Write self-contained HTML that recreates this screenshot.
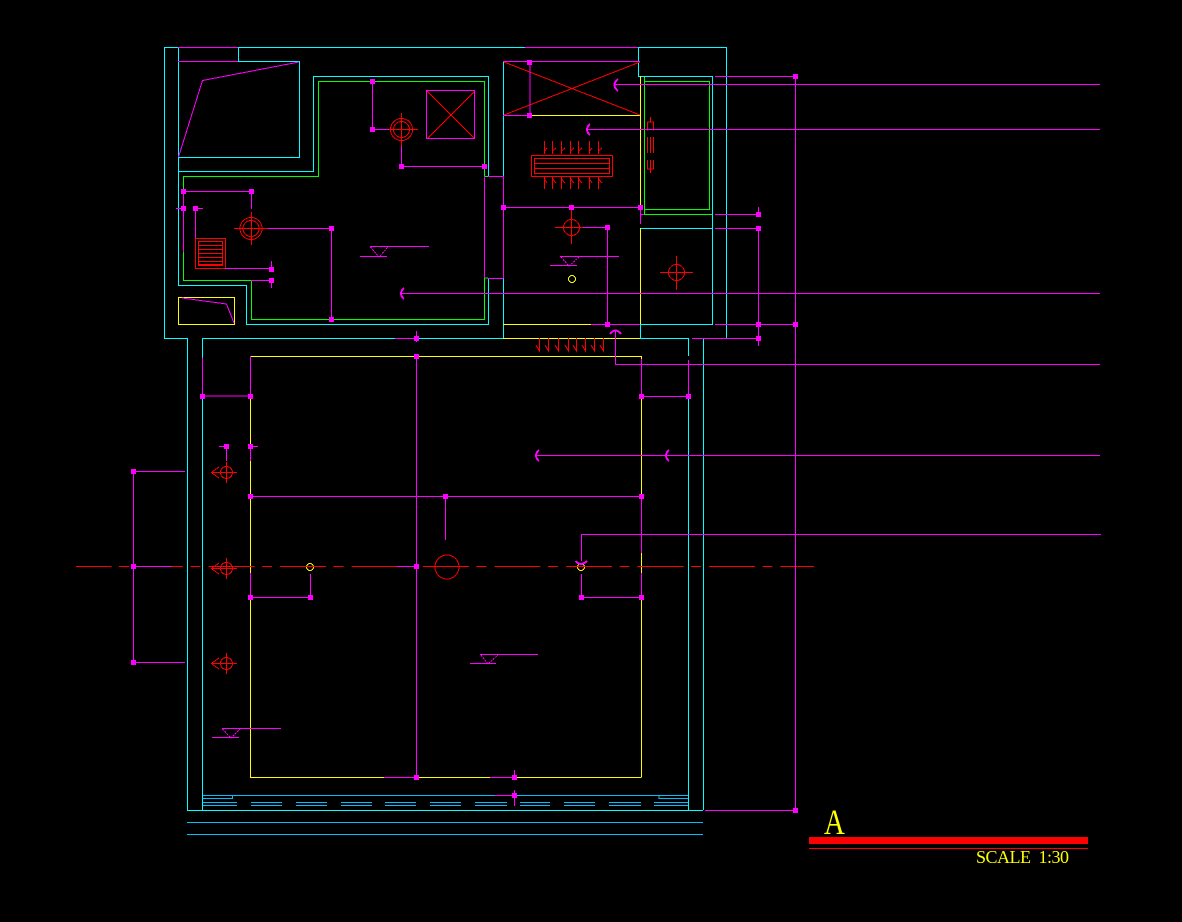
<!DOCTYPE html>
<html><head><meta charset="utf-8"><style>
html,body{margin:0;padding:0;background:#000;width:1182px;height:922px;overflow:hidden}
svg{display:block}
text{font-family:"Liberation Serif",serif;fill:#ff0}
</style></head><body>
<svg width="1182" height="922" viewBox="0 0 1182 922" shape-rendering="crispEdges" fill="none" stroke-width="1">
<rect width="1182" height="922" fill="#000" stroke="none"/>
<!-- blue-cyan -->
<path stroke="#00bfff" d="M187 822.5H703M187 834.5H703M202 795.5H495M514 795.5H688M202 798.5H232.5V795M659 795V798.5H688
M202 802.5H237M251 802.5H282M296 802.5H327M341 802.5H372M385 802.5H416M430 802.5H461M475 802.5H507M520 802.5H550M564 802.5H595M609 802.5H641M654 802.5H689
M202 805.5H237M251 805.5H282M296 805.5H327M341 805.5H372M385 805.5H416M430 805.5H461M475 805.5H507M520 805.5H550M564 805.5H595M609 805.5H641M654 805.5H689"/>
<!-- cyan -->
<path stroke="#0ff" d="M187.5 810V338.5H164.5V47.5H178M238 47.5H525M638 47.5H726.5V338
M178.5 47V285.5H246.5V324.5H488.5V278
M238.5 47V61.5H299.5V157.5H178
M178 171.5H313.5V76.5H488.5V176
M202.5 338V358M202.5 396V810M202 338.5H395M416 338.5H503
M503.5 61V176M503.5 278V338
M638.5 47V76.5H712.5V324.5H640M640 228.5H712.5M640.5 324V338M640 338.5H688.5V356M688.5 396V810
M703.5 338V810M187 810.5H703"/>
<!-- green -->
<path stroke="#0f0" d="M183.5 176.5V280.5H251.5V319.5H484.5V278H488
M183 176.5H318.5V81.5H484.5V176.5H488
M644.5 77V214.5H712M644 81.5H709.5V209.5H644M644 214.5H712"/>
<!-- yellow -->
<path stroke="#ff0" d="M178.5 297.5H234.5V324.5H178.5Z
M640.5 76V207M640.5 228V324M530 115.5H640M503 324.5H591M503 338.5H640
M250 356.5H641.5V396M641.5 396V496M641.5 553V573M641.5 598V777.5
M250.5 396V446M250.5 461V573M250.5 597V777.5
M250 777.5H384M416 777.5H490M514 777.5H641"/>
<circle cx="572" cy="279" r="3.5" stroke="#ff0"/>
<circle cx="310" cy="567" r="3.5" stroke="#ff0"/>
<circle cx="581" cy="567" r="3.5" stroke="#ff0"/>
<!-- red -->
<line x1="76" y1="566.5" x2="814" y2="566.5" stroke="#f00" stroke-dasharray="46 7.5 10 8" stroke-dashoffset="10.5"/>
<g stroke="#f00">
<path d="M504 62L640 115M504 115L640 62M427 91L475 139M475 91L427 139"/>
<circle cx="401.5" cy="129.5" r="11"/><circle cx="401.5" cy="129.5" r="8"/>
<path d="M385 129.5H418M401.5 113V146"/>
<circle cx="251" cy="228.5" r="11"/><circle cx="251" cy="228.5" r="8"/>
<path d="M234 228.5H268M251.5 212V245"/>
<rect x="195.5" y="238.5" width="30" height="30"/><rect x="198.5" y="241.5" width="24" height="24"/>
<path d="M198 245.5H222M198 249.5H222M198 253.5H222M198 257.5H222M198 261.5H222M198 264.5H222"/>
<rect x="531.5" y="155.5" width="81" height="21"/><rect x="534.5" y="158.5" width="75" height="15"/>
<path d="M534 163.5H609M534 168.5H609"/>
<path d="M544.5 141V154M544.5 151L547 148M552.5 141V154M552.5 151L556 148M561.5 141V154M561.5 151L565 148M570.5 141V154M570.5 151L574 148M578.5 141V154M578.5 151L582 148M589.5 141V154M589.5 151L592 148M598.5 141V154M598.5 151L602 148
M544.5 177V189M544.5 179L547 183M552.5 177V189M552.5 179L556 183M561.5 177V189M561.5 179L565 183M570.5 177V189M570.5 179L574 183M578.5 177V189M578.5 179L582 183M589.5 177V189M589.5 179L592 183M598.5 177V189M598.5 179L602 183"/>
<path d="M650.5 117V122M647.5 130.5V122H653.5V130.5M647.5 137V153M650.5 137V153M653.5 137V153M647.5 160V169H653.5V160M650.5 160V173"/>
<circle cx="571.5" cy="227.5" r="8"/><path d="M555 227.5H583M571.5 207V244"/>
<circle cx="676.5" cy="272.5" r="8"/><path d="M660 272.5H693M676.5 256V290"/>
<path d="M539.5 338V351L536 345M548.5 338V351L545 345M558.5 338V351L555 345M568.5 338V351L565 345M576.5 338V351L573 345M585.5 338V351L582 345M594.5 338V351L591 345M603.5 338V351L600 345"/>
<circle cx="447" cy="567" r="12"/>
<circle cx="226.5" cy="472.5" r="6"/><path d="M211 472.5H237M226.5 462V483M212 472L219 467M212 473L219 478"/>
<circle cx="226.5" cy="568.5" r="6"/><path d="M211 568.5H237M226.5 558V579M212 568L219 563M212 569L219 574"/>
<circle cx="226.5" cy="663.5" r="6"/><path d="M211 663.5H237M226.5 653V674M212 663L219 658M212 664L219 669"/>
</g>
<rect x="809" y="837" width="279" height="7" fill="#f00" stroke="none"/>
<rect x="809" y="848" width="279" height="1" fill="#f00" stroke="none"/>
<!-- magenta -->
<path stroke="#f0f" d="M178 47.5H238M525 47.5H638M178 61.5H238M503 61.5H640M503 115.5H530
M299 62L202.5 80.5L178.5 157M182 298L226.5 304L234 323
M484.5 176V278M488 176.5H503.5M488 278.5H503.5M503.5 176V278M640.5 207V224M640 214.5H644
M372.5 81V129.5H389M401.5 146V166.5H484M426.5 90.5H474.5V138.5H426.5Z
M183.5 191V252M183 191.5H251.5V209M176 208.5H186M195.5 208.5H203M195.5 208V238M225 268.5H271.5M271.5 261V269M251 280.5H271.5V288
M268 228.5H331.5V319.5
M503 207.5H640M530 62V115M583 227.5H607.5V324M591 324.5H640
M395 338.5H416M416.5 331V342
M615 84.5H1100M587 129.5H1100M401 293.5H1100M615.5 331V364.5H1100M535 455.5H1100M581.5 561V534.5H1101M581.5 574V597.5H641.5
M715 76.5H795.5M795.5 76V810M705 810.5H795.5M715 324.5H795.5
M715 214.5H758.5M758.5 207V217M715 228.5H758.5V324M692 338.5H758.5M758.5 324V346
M416.5 356V777M250.5 356V396M641.5 359V396M641.5 496V553M641.5 573V598
M202.5 358V396H250M641 396.5H688.5M688.5 360V396
M250 496.5H641M445.5 496V540
M250.5 446V461M250 446.5H258M226.5 446V461M219 446.5H226.5
M250.5 573V597M250 597.5H310.5V574
M133.5 471V662M133 471.5H185M133 566.5H172M133 662.5H185
M397 566.5H416
M384 777.5H416M490 777.5H514M514.5 770V780M495 795.5H514M514.5 790V806
M370 246.5H429M360 256.5H387M560 256.5H619M550 265.5H577M480 654.5H538M470 663.5H496M222 728.5H281M212 737.5H239"/>
<path stroke="#f0f" stroke-dasharray="2 1" d="M370.5 247L379 257L388 247M561 257L569 266L579 257M481 655L488 664L498 655M222.5 729L231 738L240 729"/>
<g stroke="#f0f" stroke-width="2">
<path d="M618 79Q611 85 618 91M590 124Q584 129.5 590 135M404 288Q398 293.5 404 299M539 450Q533 455.5 539 461M669 450Q663 455.5 669 461M610 334Q615.5 327 621 334M575.5 561Q581 567 587 561"/>
</g>
<g fill="#f0f" stroke="none">
<rect x="370" y="79" width="5" height="5"/><rect x="370" y="127" width="5" height="5"/><rect x="399" y="164" width="5" height="5"/><rect x="482" y="164" width="5" height="5"/>
<rect x="181" y="189" width="5" height="5"/><rect x="249" y="189" width="5" height="5"/><rect x="181" y="206" width="5" height="5"/><rect x="193" y="206" width="5" height="5"/>
<rect x="329" y="226" width="5" height="5"/><rect x="329" y="317" width="5" height="5"/><rect x="269" y="267" width="5" height="5"/><rect x="269" y="278" width="5" height="5"/>
<rect x="527" y="60" width="5" height="5"/><rect x="527" y="113" width="5" height="5"/><rect x="501" y="205" width="5" height="5"/><rect x="569" y="205" width="5" height="5"/><rect x="638" y="205" width="5" height="5"/>
<rect x="605" y="225" width="5" height="5"/><rect x="605" y="322" width="5" height="5"/><rect x="414" y="336" width="5" height="5"/>
<rect x="793" y="74" width="5" height="5"/><rect x="793" y="322" width="5" height="5"/><rect x="793" y="808" width="5" height="5"/>
<rect x="756" y="212" width="5" height="5"/><rect x="756" y="226" width="5" height="5"/><rect x="756" y="322" width="5" height="5"/><rect x="756" y="336" width="5" height="5"/>
<rect x="414" y="354" width="5" height="5"/><rect x="414" y="564" width="5" height="5"/><rect x="414" y="775" width="5" height="5"/>
<rect x="200" y="394" width="5" height="5"/><rect x="248" y="394" width="5" height="5"/><rect x="639" y="394" width="5" height="5"/><rect x="686" y="394" width="5" height="5"/>
<rect x="248" y="444" width="5" height="5"/><rect x="224" y="444" width="5" height="5"/><rect x="248" y="494" width="5" height="5"/><rect x="443" y="494" width="5" height="5"/><rect x="639" y="494" width="5" height="5"/>
<rect x="248" y="595" width="5" height="5"/><rect x="308" y="595" width="5" height="5"/><rect x="579" y="595" width="5" height="5"/><rect x="639" y="595" width="5" height="5"/>
<rect x="131" y="469" width="5" height="5"/><rect x="131" y="564" width="5" height="5"/><rect x="131" y="660" width="5" height="5"/>
<rect x="512" y="775" width="5" height="5"/><rect x="512" y="793" width="5" height="5"/>
</g>
<text x="824" y="834" font-size="36" transform="translate(164.8 0) scale(.8 1)" stroke="none">A</text>
<text x="976" y="863" font-size="18" textLength="93" stroke="none" xml:space="preserve">SCALE  1:30</text>
</svg>
</body></html>
